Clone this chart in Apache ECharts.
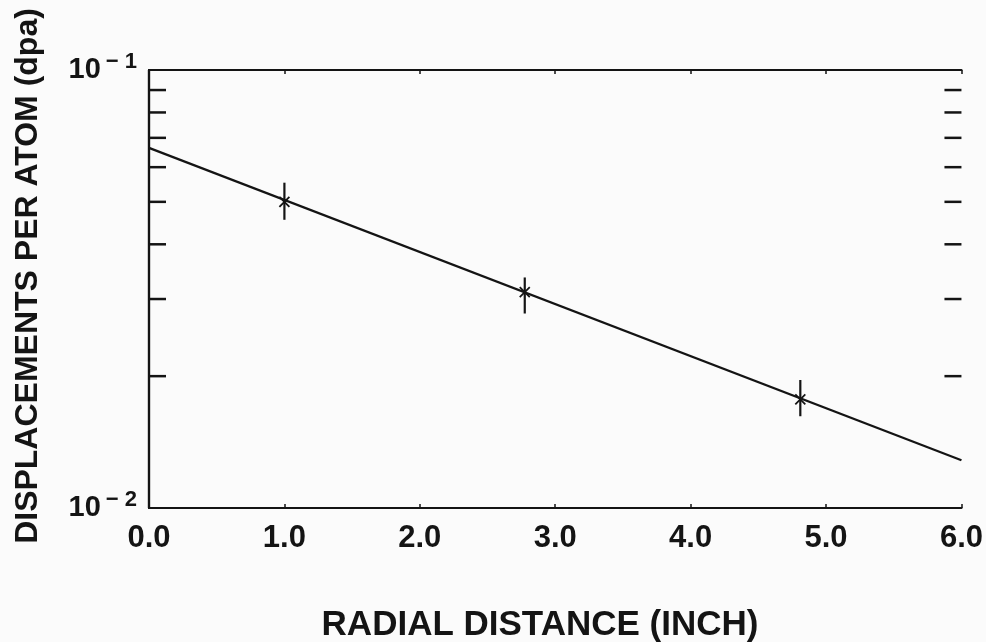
<!DOCTYPE html>
<html>
<head>
<meta charset="utf-8">
<script src="https://cdn.jsdelivr.net/npm/echarts@6/dist/echarts.min.js"></script>
<style>
html,body{margin:0;padding:0;background:#fbfbfb;}
#chart{width:986px;height:642px;}
</style>
</head>
<body>
<div id="chart"></div>
<script>
// Data
const xTickValues = [0, 1, 2, 3, 4, 5, 6];
const yMinorTicks = [0.02, 0.03, 0.04, 0.05, 0.06, 0.07, 0.08, 0.09];
const pointX = [1.0, 2.775, 4.81];
const pointY = [0.0500, 0.0311, 0.0177];
const errLow = [0.0455, 0.0278, 0.0162];
const errHigh = [0.0553, 0.0336, 0.0196];
const fitX = [0, 6];
const fitY = [0.0664, 0.01286];
const xTitle = 'RADIAL DISTANCE (INCH)';
const yTitle = 'DISPLACEMENTS PER ATOM (dpa)';

const INK = '#141414';
const FONT = '"Liberation Sans", Arial, Helvetica, sans-serif';

const chart = echarts.init(document.getElementById('chart'));

const errData = pointX.map((x, i) => [x, pointY[i], errLow[i], errHigh[i]]);
const fitData = fitX.map((x, i) => [x, fitY[i]]);
const minorData = yMinorTicks.map(v => [0, v]);

const option = {
  backgroundColor: '#fbfbfb',
  animation: false,
  grid: { left: 149, right: 24, top: 70, bottom: 134, containLabel: false },
  xAxis: [
    {
      type: 'value', min: 0, max: 6, interval: 1, position: 'bottom',
      axisLine: { show: true, lineStyle: { color: INK, width: 2.2 } },
      axisTick: { show: true, inside: true, length: 4, lineStyle: { color: INK, width: 1.5 } },
      splitLine: { show: false },
      axisLabel: {
        show: true, margin: 15, color: INK, fontFamily: FONT, fontWeight: 'bold', fontSize: 31,
        formatter: v => v.toFixed(1)
      }
    },
    {
      type: 'value', min: 0, max: 6, interval: 1, position: 'top',
      axisLine: { show: true, lineStyle: { color: INK, width: 2.2 } },
      axisTick: { show: true, inside: true, length: 4, lineStyle: { color: INK, width: 1.5 } },
      splitLine: { show: false },
      axisLabel: { show: false }
    }
  ],
  yAxis: [
    {
      type: 'log', logBase: 10, min: 0.01, max: 0.1, position: 'left',
      axisLine: { show: true, lineStyle: { color: INK, width: 2.2 } },
      axisTick: { show: false },
      splitLine: { show: false },
      minorTick: { show: false },
      axisLabel: {
        show: true, margin: 12, color: INK, fontFamily: FONT, fontWeight: 'bold',
        formatter: v => (v > 0.05 ? '{b|10}{s|\u2212 1}' : '{b|10}{s|\u2212 2}'),
        rich: {
          b: { fontSize: 29, fontWeight: 'bold', fontFamily: FONT, color: INK, lineHeight: 32 },
          s: { fontSize: 22, fontWeight: 'bold', fontFamily: FONT, color: INK, padding: [0, 0, 16, 5], lineHeight: 32 }
        }
      }
    },
    {
      type: 'log', logBase: 10, min: 0.01, max: 0.1, position: 'right',
      axisLine: { show: true, lineStyle: { color: INK, width: 2.2 } },
      axisTick: { show: false },
      splitLine: { show: false },
      axisLabel: { show: false }
    }
  ],
  graphic: [
    {
      type: 'text', x: 540, y: 625,
      style: { text: xTitle, font: 'bold 35px ' + FONT, fill: INK, textAlign: 'center', textVerticalAlign: 'middle' }
    },
    {
      type: 'text', x: 28, y: 276, rotation: Math.PI / 2,
      style: { text: yTitle, font: 'bold 32px ' + FONT, fill: INK, textAlign: 'center', textVerticalAlign: 'middle' }
    }
  ],
  series: [
    {
      type: 'custom', name: 'minorTicks', xAxisIndex: 0, yAxisIndex: 0,
      data: minorData, silent: true, clip: false,
      renderItem: (params, api) => {
        const v = api.value(1);
        const pl = api.coord([0, v]);
        const pr = api.coord([6, v]);
        const L = 17;
        return {
          type: 'group',
          children: [
            { type: 'line', shape: { x1: pl[0], y1: pl[1], x2: pl[0] + L, y2: pl[1] }, style: { stroke: INK, lineWidth: 2.5 } },
            { type: 'line', shape: { x1: pr[0], y1: pr[1], x2: pr[0] - L, y2: pr[1] }, style: { stroke: INK, lineWidth: 2.5 } }
          ]
        };
      }
    },
    {
      type: 'line', name: 'fit', xAxisIndex: 0, yAxisIndex: 0,
      data: fitData, showSymbol: false, symbol: 'none',
      lineStyle: { color: INK, width: 2.2 }
    },
    {
      type: 'custom', name: 'points', xAxisIndex: 0, yAxisIndex: 0,
      data: errData, silent: true,
      renderItem: (params, api) => {
        const c = api.coord([api.value(0), api.value(1)]);
        const lo = api.coord([api.value(0), api.value(2)]);
        const hi = api.coord([api.value(0), api.value(3)]);
        const d = 5;
        return {
          type: 'group',
          children: [
            { type: 'line', shape: { x1: c[0], y1: hi[1], x2: c[0], y2: lo[1] }, style: { stroke: INK, lineWidth: 2.2 } },
            { type: 'line', shape: { x1: c[0] - d, y1: c[1] - d, x2: c[0] + d, y2: c[1] + d }, style: { stroke: INK, lineWidth: 1.8 } },
            { type: 'line', shape: { x1: c[0] - d, y1: c[1] + d, x2: c[0] + d, y2: c[1] - d }, style: { stroke: INK, lineWidth: 1.8 } }
          ]
        };
      }
    }
  ]
};

chart.setOption(option);
</script>
</body>
</html>
